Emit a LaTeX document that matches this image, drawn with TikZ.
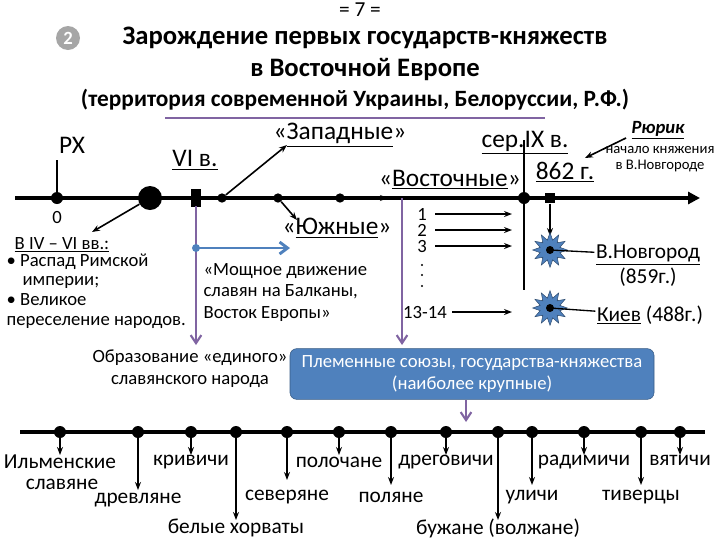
\documentclass[tikz,border=0pt]{standalone}
\usepackage{fontspec}
\setmainfont{Carlito}
\usetikzlibrary{arrows.meta,shapes.geometric}
\definecolor{pur}{HTML}{8064A2}
\definecolor{bl}{HTML}{4F81BD}
\begin{document}
\begin{tikzpicture}[x=0.75pt,y=-0.75pt,
  ax/.style={line width=3pt,-{Triangle[length=9pt,width=9pt]}},
  dt/.style={circle,fill=black,inner sep=0,minimum size=9pt},
  ar/.style={line width=1.2pt,-{Stealth[length=6pt]}},
  par/.style={pur,line width=1.6pt,-{Straight Barb[length=6pt,width=8pt]}},
  tx/.style={font=\fontsize{16}{18}\selectfont,inner sep=1pt},
  sm/.style={font=\fontsize{14}{16}\selectfont,inner sep=1pt,align=left},
  hd/.style={font=\fontsize{19}{21}\selectfont,inner sep=1pt},
  burst/.style={shape=star,star points=12,star point ratio=1.7,fill=bl,draw=bl!60!black,minimum size=26pt,inner sep=0}]
\useasboundingbox (0,0) rectangle (720,540);
\node[font=\fontsize{16}{18}\selectfont] (seven) at (360,10) {= 7 =};
\node[circle,fill=gray!70,text=white,font=\bfseries\fontsize{14}{15}\selectfont,minimum size=18pt,inner sep=0] (two) at (68,38) {2};
\node[font=\bfseries\fontsize{20}{23.5}\selectfont,align=center] (t1) at (365,54) {Зарождение первых государств-княжеств\\в Восточной Европе};
\node[font=\bfseries\fontsize{17.5}{19}\selectfont] (t2) at (355,100) {(территория современной Украины, Белоруссии, Р.Ф.)};
\coordinate (ul1) at (165,118); \coordinate (ul2) at (545,118);
\draw[pur,line width=2pt] (ul1) -- (ul2);
% timeline 1
\coordinate (a0) at (15,198); \coordinate (a1) at (700,198);
\draw[ax] (a0) -- (a1);
\node[dt] (d0) at (57,198) {};
\node[hd] (rx) at (72,145) {РХ};
\draw[line width=1pt] (57,160) -- (d0);
\node[sm] (zero) at (57,217) {0};
\node[circle,fill=black,minimum size=18pt,inner sep=0] (big) at (150,198) {};
\node[fill=black,minimum width=7pt,minimum height=14pt,inner sep=0] (r1) at (196,198) {};
\node[hd] (vi) at (195,160) {\underline{VI в.}};
\node[dt,minimum size=7pt] (d1) at (222,198) {};
\node[dt,minimum size=7pt] (d2) at (278,198) {};
\node[dt,minimum size=7pt] (d3) at (340,198) {};
\node[hd] (zap) at (340,135) {«\underline{Западные}»};
\node[hd] (yuzh) at (337,228) {«\underline{Южные}»};
\draw[ar] (d1) -- (287,145);
\draw[ar] (d2) -- (297,220);
\draw[-{Stealth[length=6pt]},line width=1pt] (375,198) -- (388,198);
\node[hd] (vost) at (450,180) {«\underline{Восточные}»};
\node[dt] (d4) at (524,198) {};
\draw[line width=1pt] (524,140) -- (524,290);
\node[hd] (ser) at (525,143) {\underline{сер.IX в.}};
\node[fill=black,minimum size=8pt,inner sep=0] (r2) at (550,198) {};
\node[hd] (y862) at (565,172) {\underline{862 г.}};
\node[font=\bfseries\itshape\fontsize{14}{15}\selectfont] (rur) at (658,130) {\underline{Рюрик}};
\draw[ar] (626,138) -- (585,158);
\node[sm,align=center,font=\fontsize{11}{12.5}\selectfont] (nach) at (660,159) {начало княжения\\в В.Новгороде};
\draw[ar] (r2) -- (550,236);
\draw[ar] (big) -- (92,232);
\node[sm] (biv) at (62,245) {\underline{В IV – VI вв.:}};
\node[sm,anchor=north west,font=\fontsize{14}{14.8}\selectfont] (lst) at (5,252) {• Распад Римской\\\hspace*{12pt}империи;\\• Великое\\переселение народов.};
\draw[par] (196,206) -- (196,345);
\draw[bl,line width=2.2pt,-{Straight Barb[length=6pt,width=9pt]}] (196,248) -- (290,248);
\node[circle,fill=bl,minimum size=6pt,inner sep=0] (bd) at (196,248) {};
\node[sm,anchor=north west,font=\fontsize{14}{16}\selectfont] (mosh) at (202,262) {«Мощное движение\\славян на Балканы,\\Восток Европы»};
\draw[par] (402,198) -- (402,345);
\foreach \n/\y in {1/214,2/230,3/246}{
  \node[sm] (n\n) at (422,\y) {\n};
  \draw[ar] (435,\y) -- (512,\y);}
\foreach \y in {265,275,286} \fill (422,\y) circle[radius=0.9pt];
\node[sm] (n13) at (425,312) {13-14};
\draw[ar] (452,312) -- (512,312);
\node[burst] (s1) at (550,250) {}; \fill (550,250) circle[radius=3pt];
\node[burst] (s2) at (550,308) {}; \fill (550,308) circle[radius=3pt];
\node[tx] (nov) at (648,255) {\underline{В.Новгород}};
\node[tx] (n859) at (648,277) {(859г.)};
\node[tx] (kiev) at (650,315) {\underline{Киев} (488г.)};
\draw[line width=1pt] (s1.center) -- (nov);
\draw[line width=1pt] (s2.center) -- (kiev);
% bottom
\node[sm,align=center,font=\fontsize{14}{16.5}\selectfont] (obr) at (190,369) {Образование «единого»\\славянского народа};
\node[draw=bl!70!black,fill=bl,rounded corners=5pt,minimum width=273pt,minimum height=38pt,text=white,align=center,font=\fontsize{14}{16.5}\selectfont] (box) at (472,374) {Племенные союзы, государства-княжества\\(наиболее крупные)};
\draw[par] (466,400) -- (466,422);
\draw[line width=3pt] (20,432) -- (705,432);
\foreach \x/\e/\t/\ty in {60/455/Ильменские/462,138/490/древляне/500,191/455/кривичи/462,236/520/белые хорваты/528,287/480/северяне/497,339/455/полочане/462,391/485/поляне/497,446/455/дреговичи/462,498/520/бужане (волжане)/528,532/485/уличи/497,584/455/радимичи/462,641/485/тиверцы/497,680/455/вятичи/460}{
  \node[dt] (b\x) at (\x,432) {};
  \draw[line width=1.2pt,-{Stealth[length=6pt]}] (b\x) -- (\x,\e);
  \node[tx] (l\x) at (\x,\ty) {\t};}
\node[tx] (slav) at (62,484) {славяне};
\end{tikzpicture}
\end{document}
